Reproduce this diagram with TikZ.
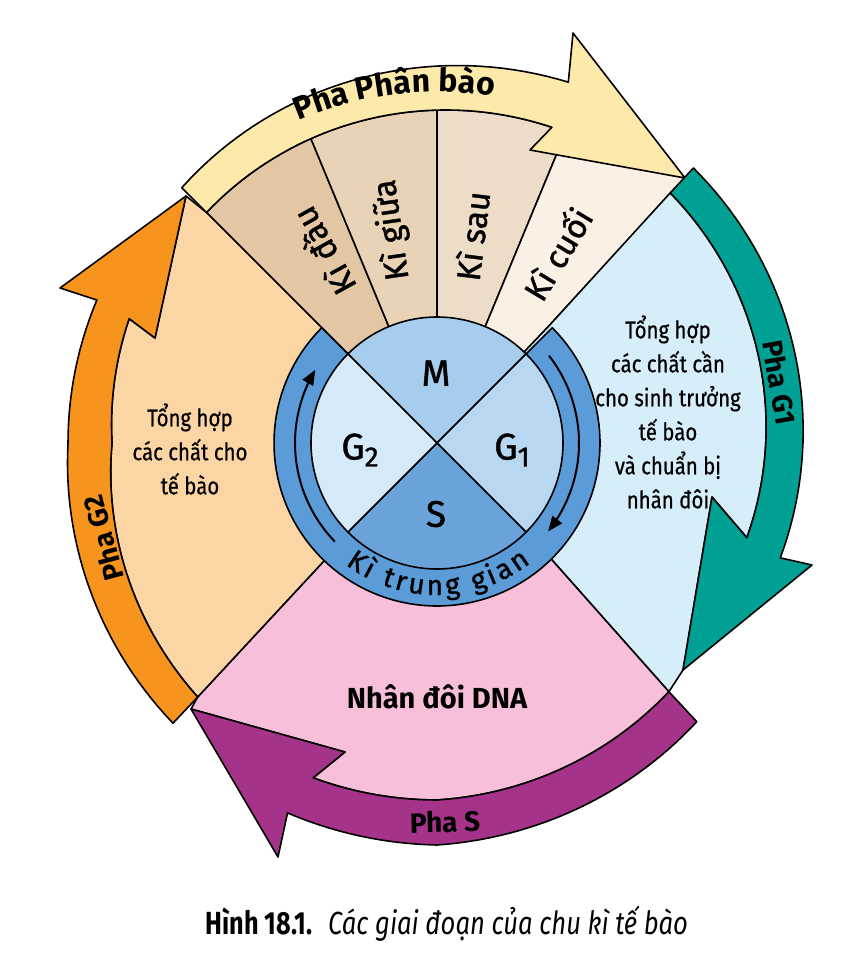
\documentclass[tikz,border=0pt]{standalone}
\usepackage{fontspec}
\setmainfont{Fira Sans}
\newfontfamily\med{Fira Sans}[FakeBold=1.2]
\newfontfamily\cond{Fira Sans}[FakeStretch=0.85,FakeBold=0.6]
\newfontfamily\capb{Fira Sans}[FakeStretch=0.79]
\newfontfamily\capf{Fira Sans}[FakeStretch=0.8]
\usetikzlibrary{arrows.meta,decorations.text}
\definecolor{yband}{HTML}{FDE9A9}
\definecolor{kidau}{HTML}{E3C7A4}
\definecolor{kigiua}{HTML}{E8D3B6}
\definecolor{kisau}{HTML}{EDDDC8}
\definecolor{kicuoi}{HTML}{FAF0E4}
\definecolor{gonereg}{HTML}{D6EEFA}
\definecolor{gtworeg}{HTML}{FCD5A5}
\definecolor{sreg}{HTML}{F8BFDA}
\definecolor{teal}{HTML}{00A194}
\definecolor{orng}{HTML}{F7941E}
\definecolor{purp}{HTML}{A53389}
\definecolor{ringc}{HTML}{5B9BD8}
\definecolor{mq}{HTML}{A6CCEE}
\definecolor{gonq}{HTML}{B8D7F1}
\definecolor{gtwq}{HTML}{D5E9F8}
\definecolor{sq}{HTML}{6AA3DA}
\begin{document}
\begin{tikzpicture}[x=1pt,y=-1pt,
  ol/.style={draw=black,line width=1.6pt,line join=round},
  kilab/.style={font=\med\fontsize{33}{33}\selectfont,inner sep=0pt},
  qlab/.style={font=\med\fontsize{37}{37}\selectfont,inner sep=0pt},
  phalab/.style={font=\fontsize{28}{28}\selectfont\bfseries,inner sep=0pt},
  regtext/.style={font=\cond\fontsize{24}{34}\selectfont,align=center,inner sep=0pt},
  ringarrow/.style={draw=black,line width=2pt,-{Triangle[length=15pt,width=12pt]}}]
\fill[white] (0,0) rectangle (849,961);
\useasboundingbox (0,0) rectangle (849,961);
% key points
\coordinate (C) at (437,443);
\coordinate (Dtl) at (322,328);
\coordinate (Dtr) at (547,328);
\coordinate (Dbl) at (323,562);
\coordinate (Dbr) at (552,560);
% yellow arrow
\coordinate (Yti) at (206.5,212.5);
\coordinate (Yto) at (181.7,187.7);
\coordinate (Ybo) at (573,33);
\coordinate (Ytip) at (685,178);
\coordinate (Ybi) at (530,150);
% teal arrow
\coordinate (Tti) at (670.2,192.9);
\coordinate (Tto) at (693.4,168);
\coordinate (Tbo) at (812,565);
\coordinate (Ttip) at (683,670);
\coordinate (Tbi) at (712,497);
% purple arrow
\coordinate (Pti) at (668.9,691.7);
\coordinate (Pto) at (696.8,721.7);
\coordinate (Pbo) at (278,857);
\coordinate (Ptip) at (191,709);
\coordinate (Pbi) at (345,752);
% orange arrow
\coordinate (Oti) at (197.7,697);
\coordinate (Oto) at (173,723.2);
\coordinate (Obo) at (60,288);
\coordinate (Otip) at (186,196);
\coordinate (Obi) at (155,338);
% ---- Ki sectors
\path[ol,fill=kidau] (C) -- plot[domain=225:247.5,samples=20] ({437+(336+(\x-290)*0.1538)*cos(\x)},{443+(336+(\x-290)*0.1538)*sin(\x)}) -- cycle;
\path[ol,fill=kigiua] (C) -- plot[domain=247.5:270,samples=20] ({437+(336+(\x-290)*0.1538)*cos(\x)},{443+(336+(\x-290)*0.1538)*sin(\x)}) -- cycle;
\path[ol,fill=kisau] (C) -- plot[domain=270:292.5,samples=20] ({437+(336+(\x-290)*0.1538)*cos(\x)},{443+(336+(\x-290)*0.1538)*sin(\x)}) -- cycle;
\path[ol,fill=kicuoi] (C) -- ({437+340*cos(292.5)},{443+340*sin(292.5)}) -- (Ytip) -- (Dtr) -- cycle;
% ---- G1 region
\path[ol,fill=gonereg] (Dtr) -- (Tti) -- plot[domain=-47:17,samples=40] ({437+(342-(\x+47)*0.28125)*cos(\x)},{443+(342-(\x+47)*0.28125)*sin(\x)}) -- (Tbi) -- (Ttip) -- (Pti) -- (Dbr) -- (C) -- cycle;
% ---- S region
\path[ol,fill=sreg] (Dbr) -- (Pti) -- plot[domain=47:90,samples=30] ({437+(357+(\x-90)*0.3953)*cos(\x)},{443+(357+(\x-90)*0.3953)*sin(\x)}) -- plot[domain=90:110.3,samples=15] ({437+357*cos(\x)},{443+357*sin(\x)}) -- (Pbi) -- (Ptip) -- (Oti) -- (Dbl) -- (C) -- cycle;
% ---- G2 region
\path[ol,fill=gtworeg] (Dbl) -- (Oti) -- plot[domain=133.3:180,samples=30] ({437+(325+(180-\x)*0.5139)*cos(\x)},{443+(325+(180-\x)*0.5139)*sin(\x)}) -- plot[domain=180:202,samples=15] ({437+(325+(\x-180)*0.318)*cos(\x)},{443+(325+(\x-180)*0.318)*sin(\x)}) -- (Obi) -- (Otip) -- (Yti) -- (Dtl) -- (C) -- cycle;
% ---- ring
\path[ol,fill=ringc] (C) -- plot[domain=-45:225,samples=100] ({437+163*cos(\x)},{443+163*sin(\x)}) -- cycle;
% ---- disc quadrants
\path[ol,fill=mq] (C) -- plot[domain=225:315,samples=40] ({437+126*cos(\x)},{443+126*sin(\x)}) -- cycle;
\path[ol,fill=gonq] (C) -- plot[domain=-45:45,samples=40] ({437+126*cos(\x)},{443+126*sin(\x)}) -- cycle;
\path[ol,fill=sq] (C) -- plot[domain=45:135,samples=40] ({437+126*cos(\x)},{443+126*sin(\x)}) -- cycle;
\path[ol,fill=gtwq] (C) -- plot[domain=135:225,samples=40] ({437+126*cos(\x)},{443+126*sin(\x)}) -- cycle;
% ring arrows
\draw[ringarrow] plot[domain=136:211,samples=40] ({437+142*cos(\x)},{443+142*sin(\x)});
\draw[ringarrow] plot[domain=322:398.5,samples=40] ({437+142*cos(\x)},{443+142*sin(\x)});
% ---- big arrows
\path[ol,fill=yband] (Yti) -- (Yto) -- plot[domain=225:290,samples=40] ({437+(361+(\x-225)*0.3538)*cos(\x)},{443+(361+(\x-225)*0.3538)*sin(\x)}) -- (Ybo) -- (Ytip) -- (Ybi) -- plot[domain=290:225,samples=40] ({437+(336+(\x-290)*0.1538)*cos(\x)},{443+(336+(\x-290)*0.1538)*sin(\x)}) -- cycle;
\path[ol,fill=teal] (Tti) -- (Tto) -- plot[domain=-47:18.5,samples=40] ({437+(376-(\x+47)*0.2137)*cos(\x)},{443+(376-(\x+47)*0.2137)*sin(\x)}) -- (Tbo) -- (Ttip) -- (Tbi) -- plot[domain=17:-47,samples=40] ({437+(342-(\x+47)*0.28125)*cos(\x)},{443+(342-(\x+47)*0.28125)*sin(\x)}) -- cycle;
\path[ol,fill=purp] (Pti) -- (Pto) -- plot[domain=47:90,samples=30] ({437+(381+(\x-47)*0.4884)*cos(\x)},{443+(381+(\x-47)*0.4884)*sin(\x)}) -- plot[domain=90:112,samples=15] ({437+(402-(\x-90)*0.1364)*cos(\x)},{443+(402-(\x-90)*0.1364)*sin(\x)}) -- (Pbo) -- (Ptip) -- (Pbi) -- plot[domain=110.3:90,samples=15] ({437+357*cos(\x)},{443+357*sin(\x)}) -- plot[domain=90:47,samples=30] ({437+(357+(\x-90)*0.3953)*cos(\x)},{443+(357+(\x-90)*0.3953)*sin(\x)}) -- cycle;
\path[ol,fill=orng] (Oti) -- (Oto) -- plot[domain=133.3:180,samples=30] ({437+(385-(\x-133.3)*0.3426)*cos(\x)},{443+(385-(\x-133.3)*0.3426)*sin(\x)}) -- plot[domain=180:202.8,samples=15] ({437+369*cos(\x)},{443+369*sin(\x)}) -- (Obo) -- (Otip) -- (Obi) -- plot[domain=202:180,samples=15] ({437+(325+(\x-180)*0.318)*cos(\x)},{443+(325+(\x-180)*0.318)*sin(\x)}) -- plot[domain=180:133.3,samples=30] ({437+(325+(180-\x)*0.5139)*cos(\x)},{443+(325+(180-\x)*0.5139)*sin(\x)}) -- cycle;
% ---- curved texts
\path[decorate,decoration={text along path,text align=center,text={|\fontsize{32}{32}\selectfont\bfseries|Pha Phân bào}}] plot[domain=231:295,samples=80] ({437+351*cos(\x)},{443+351*sin(\x)});
\path[decorate,decoration={text along path,text align={fit to path},text={|\med\fontsize{28}{28}\selectfont|Kì trung gian}}] plot[domain=127:52,samples=80] ({437+152*cos(\x)},{443+152*sin(\x)});
% ---- labels
\node[kilab,rotate=119] (kidaul) at (322,252) {Kì đầu};
\node[kilab,rotate=98] (kigiual) at (392,230) {Kì giữa};
\node[kilab,rotate=83] (kisaul) at (472,236) {Kì sau};
\node[kilab,rotate=59] (kicuoil) at (556,253) {Kì cuối};
\node[qlab] (mlab) at (436,373) {M};
\node[qlab] (gonelab) at (512,450) {G\raisebox{-7pt}{\fontsize{28}{28}\selectfont 1}};
\node[qlab] (gtwolab) at (360,450) {G\raisebox{-7pt}{\fontsize{28}{28}\selectfont 2}};
\node[qlab] (slab) at (436,514) {S};
\node[phalab,rotate=-80] (phagone) at (779.7,382.6) {Pha G1};
\node[phalab,rotate=105] (phagtwo) at (103,538) {Pha G2};
\node[phalab,rotate=1.4] (phas) at (445,822) {Pha S};
\node[font=\fontsize{29}{29}\selectfont\bfseries,inner sep=0pt] (nhandoi) at (437,697) {Nhân đôi DNA};
\node[regtext] (gtwotext) at (190,449) {Tổng hợp\\các chất cho\\tế bào};
\node[regtext] (gonetext) at (668,412) {Tổng hợp\\các chất cần\\cho sinh trưởng\\tế bào\\và chuẩn bị\\nhân đôi};
% ---- caption
\node[anchor=base west,inner sep=0pt,font=\capb\bfseries\fontsize{32}{32}\selectfont] (capb) at (205,934) {Hình 18.1.};
\node[anchor=base west,inner sep=0pt,font=\capf\itshape\fontsize{32}{32}\selectfont] (capi) at (328,934) {Các giai đoạn của chu kì tế bào};
\end{tikzpicture}
\end{document}
